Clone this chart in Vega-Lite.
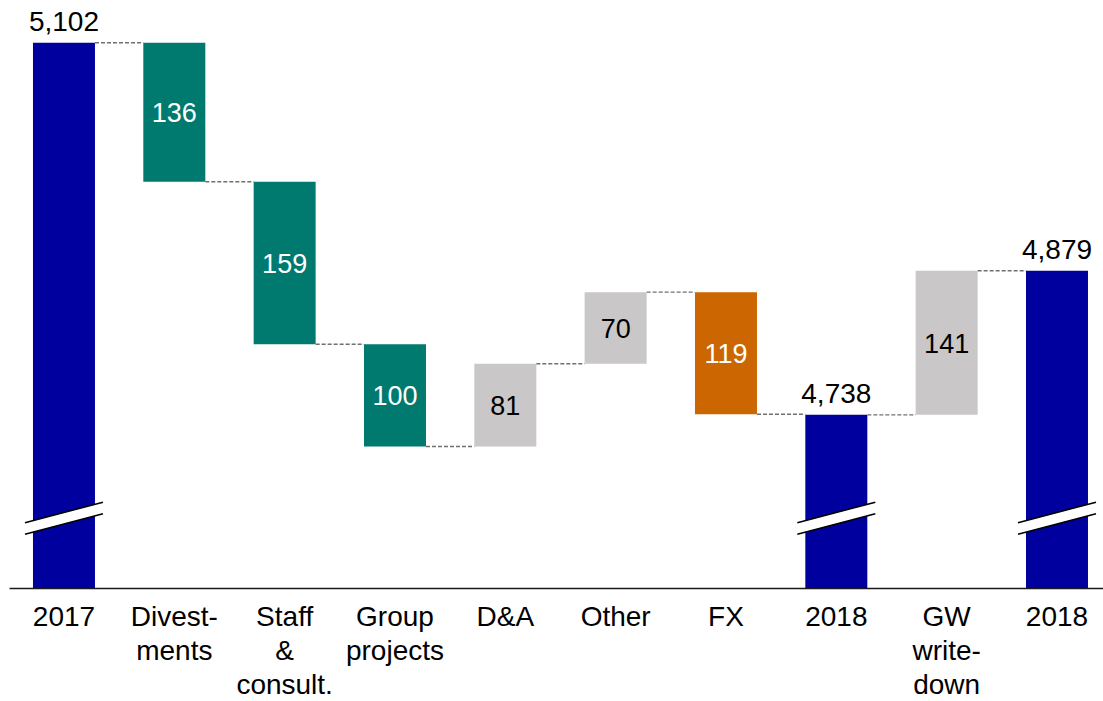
{
  "$schema": "https://vega.github.io/schema/vega-lite/v6.json",
  "width": 1094,
  "height": 588,
  "autosize": {"type": "none"},
  "padding": {"left": 9, "top": 0, "right": 0, "bottom": 113},
  "background": "white",
  "config": {"view": {"stroke": null}, "font": "Liberation Sans"},
  "data": {
    "values": [
      {"key": "2017", "type": "total", "end": 5102, "next": "Divest-|ments"},
      {"key": "Divest-|ments", "type": "dec", "start": 5102, "end": 4966, "amount": 136, "next": "Staff|&|consult."},
      {"key": "Staff|&|consult.", "type": "dec", "start": 4966, "end": 4807, "amount": 159, "next": "Group|projects"},
      {"key": "Group|projects", "type": "dec", "start": 4807, "end": 4707, "amount": 100, "next": "D&A"},
      {"key": "D&A", "type": "inc", "start": 4707, "end": 4788, "amount": 81, "next": "Other"},
      {"key": "Other", "type": "inc", "start": 4788, "end": 4858, "amount": 70, "next": "FX"},
      {"key": "FX", "type": "fx", "start": 4858, "end": 4738.5, "amount": 119, "next": "2018"},
      {"key": "2018", "type": "total", "end": 4738, "next": "GW|write-|down"},
      {"key": "GW|write-|down", "type": "inc", "start": 4738, "end": 4879, "amount": 141, "next": "2018|"},
      {"key": "2018|", "type": "total", "end": 4879, "next": null}
    ]
  },
  "encoding": {
    "x": {
      "field": "key", "type": "nominal", "sort": null,
      "scale": {"domain": ["2017", "Divest-|ments", "Staff|&|consult.", "Group|projects", "D&A", "Other", "FX", "2018", "GW|write-|down", "2018|"], "paddingInner": 0.4381, "paddingOuter": 0.1767, "align": 0.615, "round": false},
      "axis": {"title": null, "labelAngle": 0, "labelFont": "Liberation Sans", "labelFontSize": 28, "labelColor": "#000000", "labelLineHeight": 34, "labelExpr": "split(datum.value, '|')", "ticks": false, "tickSize": 0, "labelPadding": 15, "labelBaseline": "top", "domainColor": "#1a1a1a", "domainWidth": 1.6, "labelOverlap": false, "labelLimit": 0, "grid": false}
    }
  },
  "layer": [
    {
      "transform": [{"filter": "datum.type != 'total'"}],
      "mark": {"type": "bar"},
      "encoding": {
        "y": {"field": "start", "type": "quantitative", "scale": {"domain": [4568.6, 5143.8], "zero": false, "nice": false}, "axis": null},
        "y2": {"field": "end"},
        "color": {"field": "type", "type": "nominal", "scale": {"domain": ["total", "dec", "inc", "fx"], "range": ["#00009E", "#00796E", "#C9C7C7", "#CC6600"]}, "legend": null}
      }
    },
    {
      "transform": [{"filter": "datum.type == 'total'"}],
      "mark": {"type": "bar"},
      "encoding": {
        "y": {"field": "end", "type": "quantitative", "stack": null, "scale": {"domain": [4568.6, 5143.8], "zero": false, "nice": false}, "axis": null},
        "y2": {"datum": 4568.6},
        "color": {"field": "type", "type": "nominal", "scale": {"domain": ["total", "dec", "inc", "fx"], "range": ["#00009E", "#00796E", "#C9C7C7", "#CC6600"]}, "legend": null}
      }
    },
    {
      "transform": [{"filter": "datum.next != null"}],
      "mark": {"type": "rule", "color": "#707070", "strokeWidth": 1.4, "strokeDash": [4, 2]},
      "encoding": {
        "x": {"field": "key", "type": "nominal", "sort": null, "bandPosition": 1,
          "scale": {"domain": ["2017", "Divest-|ments", "Staff|&|consult.", "Group|projects", "D&A", "Other", "FX", "2018", "GW|write-|down", "2018|"], "paddingInner": 0.4381, "paddingOuter": 0.1767, "align": 0.615, "round": false},
          "axis": {"title": null, "labelAngle": 0, "labelFont": "Liberation Sans", "labelFontSize": 28, "labelColor": "#000000", "labelLineHeight": 34, "labelExpr": "split(datum.value, '|')", "ticks": false, "tickSize": 0, "labelPadding": 15, "labelBaseline": "top", "domainColor": "#1a1a1a", "domainWidth": 1.6, "labelOverlap": false, "labelLimit": 0, "grid": false}},
        "x2": {"field": "next", "bandPosition": 0},
        "y": {"field": "end", "type": "quantitative", "scale": {"domain": [4568.6, 5143.8], "zero": false, "nice": false}, "axis": null}
      }
    },
    {
      "transform": [{"filter": "datum.type == 'total'"}],
      "mark": {"type": "rule", "color": "#FFFFFF", "strokeWidth": 11, "xOffset": -8, "x2Offset": 8},
      "encoding": {
        "x": {"field": "key", "type": "nominal", "sort": null, "bandPosition": 0,
          "scale": {"domain": ["2017", "Divest-|ments", "Staff|&|consult.", "Group|projects", "D&A", "Other", "FX", "2018", "GW|write-|down", "2018|"], "paddingInner": 0.4381, "paddingOuter": 0.1767, "align": 0.615, "round": false},
          "axis": {"title": null, "labelAngle": 0, "labelFont": "Liberation Sans", "labelFontSize": 28, "labelColor": "#000000", "labelLineHeight": 34, "labelExpr": "split(datum.value, '|')", "ticks": false, "tickSize": 0, "labelPadding": 15, "labelBaseline": "top", "domainColor": "#1a1a1a", "domainWidth": 1.6, "labelOverlap": false, "labelLimit": 0, "grid": false}},
        "x2": {"field": "key", "bandPosition": 1},
        "y": {"datum": 4626.8, "type": "quantitative", "scale": {"domain": [4568.6, 5143.8], "zero": false, "nice": false}, "axis": null},
        "y2": {"datum": 4646.9}
      }
    },
    {
      "transform": [{"filter": "datum.type == 'total'"}],
      "mark": {"type": "rule", "color": "#000000", "strokeWidth": 1.6, "xOffset": -8, "x2Offset": 8, "yOffset": -5.8, "y2Offset": -5.8},
      "encoding": {
        "x": {"field": "key", "type": "nominal", "sort": null, "bandPosition": 0,
          "scale": {"domain": ["2017", "Divest-|ments", "Staff|&|consult.", "Group|projects", "D&A", "Other", "FX", "2018", "GW|write-|down", "2018|"], "paddingInner": 0.4381, "paddingOuter": 0.1767, "align": 0.615, "round": false},
          "axis": {"title": null, "labelAngle": 0, "labelFont": "Liberation Sans", "labelFontSize": 28, "labelColor": "#000000", "labelLineHeight": 34, "labelExpr": "split(datum.value, '|')", "ticks": false, "tickSize": 0, "labelPadding": 15, "labelBaseline": "top", "domainColor": "#1a1a1a", "domainWidth": 1.6, "labelOverlap": false, "labelLimit": 0, "grid": false}},
        "x2": {"field": "key", "bandPosition": 1},
        "y": {"datum": 4626.8, "type": "quantitative", "scale": {"domain": [4568.6, 5143.8], "zero": false, "nice": false}, "axis": null},
        "y2": {"datum": 4646.9}
      }
    },
    {
      "transform": [{"filter": "datum.type == 'total'"}],
      "mark": {"type": "rule", "color": "#000000", "strokeWidth": 1.6, "xOffset": -8, "x2Offset": 8, "yOffset": 5.8, "y2Offset": 5.8},
      "encoding": {
        "x": {"field": "key", "type": "nominal", "sort": null, "bandPosition": 0,
          "scale": {"domain": ["2017", "Divest-|ments", "Staff|&|consult.", "Group|projects", "D&A", "Other", "FX", "2018", "GW|write-|down", "2018|"], "paddingInner": 0.4381, "paddingOuter": 0.1767, "align": 0.615, "round": false},
          "axis": {"title": null, "labelAngle": 0, "labelFont": "Liberation Sans", "labelFontSize": 28, "labelColor": "#000000", "labelLineHeight": 34, "labelExpr": "split(datum.value, '|')", "ticks": false, "tickSize": 0, "labelPadding": 15, "labelBaseline": "top", "domainColor": "#1a1a1a", "domainWidth": 1.6, "labelOverlap": false, "labelLimit": 0, "grid": false}},
        "x2": {"field": "key", "bandPosition": 1},
        "y": {"datum": 4626.8, "type": "quantitative", "scale": {"domain": [4568.6, 5143.8], "zero": false, "nice": false}, "axis": null},
        "y2": {"datum": 4646.9}
      }
    },
    {
      "transform": [
        {"filter": "datum.type != 'total'"},
        {"fold": ["start", "end"], "as": ["edge", "level"]}
      ],
      "mark": {"type": "text", "font": "Liberation Sans", "fontSize": 27, "baseline": "middle", "align": "center", "dy": 2},
      "encoding": {
        "y": {"aggregate": "mean", "field": "level", "type": "quantitative", "scale": {"domain": [4568.6, 5143.8], "zero": false, "nice": false}, "axis": null},
        "text": {"field": "amount", "type": "quantitative", "format": "d"},
        "detail": {"field": "type"},
        "color": {"condition": {"test": "datum.type == 'inc'", "value": "#000000"}, "value": "#FFFFFF"}
      }
    },
    {
      "transform": [{"filter": "datum.type == 'total'"}],
      "mark": {"type": "text", "font": "Liberation Sans", "fontSize": 28, "baseline": "alphabetic", "align": "center", "dy": -12, "color": "#000000"},
      "encoding": {
        "y": {"field": "end", "type": "quantitative", "scale": {"domain": [4568.6, 5143.8], "zero": false, "nice": false}, "axis": null},
        "text": {"field": "end", "type": "quantitative", "format": ",d"}
      }
    }
  ]
}
